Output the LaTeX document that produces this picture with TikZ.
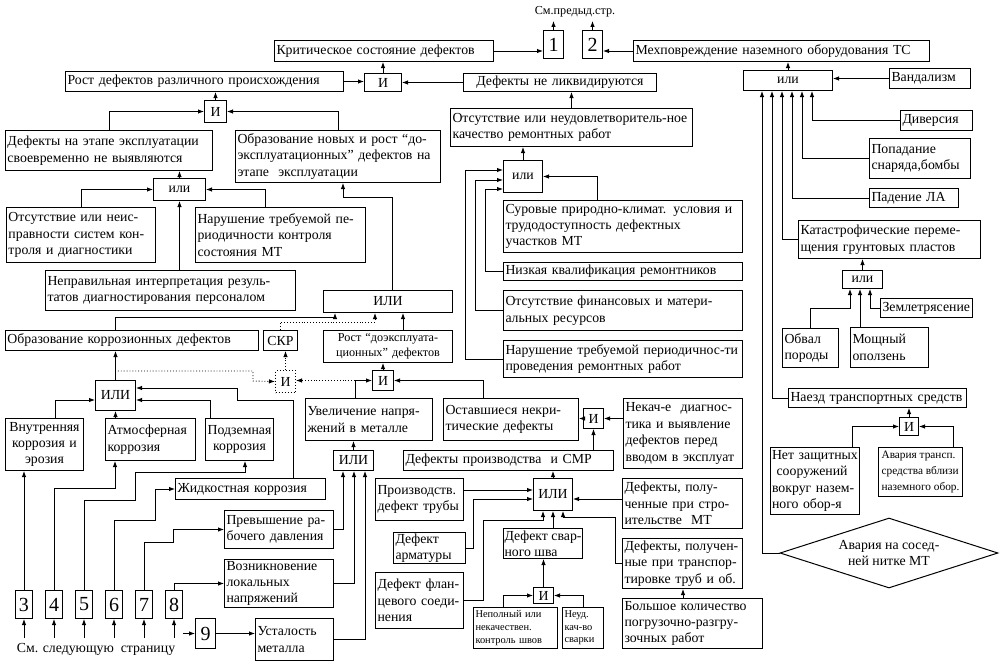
\documentclass[tikz,border=0pt]{standalone}
\usepackage{fontspec}
\setmainfont{Liberation Serif}
\usetikzlibrary{arrows.meta,shapes.geometric}

\newcommand{\fmain}{\fontsize{13.8}{16.4}\selectfont}
\newcommand{\fsmall}{\fontsize{12.2}{14.6}\selectfont}
\newcommand{\fnarrow}{\fontsize{11.3}{16}\selectfont}
\newcommand{\ftiny}{\fontsize{10.4}{12.6}\selectfont}
\newcommand{\fdigit}{\fontsize{20}{22}\selectfont}

\tikzset{
  box/.style={draw, line width=1pt, anchor=north west, inner xsep=2pt, inner ysep=1pt, align=left, font=\fmain},
  gate/.style={draw, line width=1pt, anchor=north west, inner sep=0pt, align=center, font=\fmain},
  num/.style={gate, font=\fdigit},
  link/.style={line width=0.9pt, ->},
  dlink/.style={line width=0.9pt, dotted, ->},
}

\begin{document}
\begin{tikzpicture}[x=1pt, y=-1pt, >={Latex[length=6pt,width=4.5pt]}]
\useasboundingbox (0,0) rectangle (1005,665);

% top row
\node[font=\fsmall] (seeprev) at (575,12) {См.предыд.стр.};
\node[num, minimum width=20pt, minimum height=28pt] (n1) at (543,30) {1};
\node[num, minimum width=20pt, minimum height=28pt] (n2) at (582,30) {2};
\node[box, text width=215pt, minimum height=21pt] (crit) at (274,40) {Критическое состояние дефектов};
\node[box, text width=292pt, minimum height=21pt] (mech) at (633,40) {Мехповреждение наземного оборудования ТС};
\node[box, text width=274pt, minimum height=20pt] (rost) at (65,71) {Рост дефектов различного происхождения};
\node[gate, minimum width=37pt, minimum height=18pt] (andT) at (364,73) {И};
\node[box, text width=189pt, minimum height=18pt, align=center] (neliq) at (463,73) {Дефекты не ликвидируются};
\node[gate, minimum width=89pt, minimum height=20pt] (orR) at (743,70) {или};
\node[box, text width=77pt, minimum height=20pt] (vand) at (889,68) {Вандализм};

% left branch
\node[gate, minimum width=22pt, minimum height=22pt] (andL) at (204,100) {И};
\node[box, text width=203pt, minimum height=40pt] (defexp) at (5,130) {Дефекты на этапе эксплуатации\\своевременно не выявляются};
\node[box, text width=201pt, minimum height=52pt] (obrnew) at (235,130) {Образование новых и рост “до-\\эксплуатационных” дефектов на\\этапе\ \ эксплуатации};
\node[gate, minimum width=52pt, minimum height=22pt] (orL) at (153,178) {или};
\node[box, text width=145pt, minimum height=55pt] (otsSys) at (6,207) {Отсутствие или неис-\\правности систем кон-\\троля и диагностики};
\node[box, text width=166pt, minimum height=55pt] (narKon) at (195,207) {Нарушение требуемой пе-\\риодичности контроля\\состояния МТ};
\node[box, text width=246pt, minimum height=40pt] (neprav) at (45,270) {Неправильная интерпретация резуль-\\татов диагностирования персоналом};

% repair branch
\node[box, text width=238pt, minimum height=38pt] (otsR) at (450,108) {Отсутствие или неудовлетворитель-ное\\качество ремонтных работ};
\node[gate, minimum width=39pt, minimum height=32pt] (orRep) at (503,160) {или};
\node[box, text width=235pt, minimum height=52pt] (surov) at (503,200) {Суровые природно-климат. условия и\\трудодоступность дефектных\\участков МТ};
\node[box, text width=235pt, minimum height=18pt] (nizk) at (503,262) {Низкая квалификация ремонтников};
\node[box, text width=235pt, minimum height=40pt] (otsFin) at (503,290) {Отсутствие финансовых и матери-\\альных ресурсов};
\node[box, text width=235pt, minimum height=37pt] (narRem) at (503,340) {Нарушение требуемой периодичнос-ти\\проведения ремонтных работ};

% right branch
\node[box, text width=68pt, minimum height=20pt] (divers) at (900,110) {Диверсия};
\node[box, text width=97pt, minimum height=40pt] (popad) at (869,138) {Попадание\\снаряда,бомбы};
\node[box, text width=85pt, minimum height=19pt] (padenie) at (869,188) {Падение ЛА};
\node[box, text width=178pt, minimum height=38pt] (katastr) at (798,220) {Катастрофические переме-\\щения грунтовых пластов};
\node[gate, minimum width=40pt, minimum height=18pt] (orG) at (842,270) {или};
\node[box, text width=88pt, minimum height=19pt] (zeml) at (880,298) {Землетрясение};
\node[box, text width=52pt, minimum height=39pt] (obval) at (782,328) {Обвал\\породы};
\node[box, text width=74pt, minimum height=40pt] (moshch) at (850,327) {Мощный\\оползень};
\node[box, text width=174pt, minimum height=19pt] (naezd) at (788,388) {Наезд транспортных средств};
\node[gate, minimum width=19pt, minimum height=18pt] (andTr) at (899,417) {И};
\node[box, text width=86pt, minimum height=67pt, inner xsep=1.5pt] (netZ) at (770,447) {Нет защитных\\\ сооружений\\вокруг назем-\\ного обор-я};
\node[box, minimum width=84pt, minimum height=49pt, inner xsep=1.5pt, font=\fnarrow] (avTr) at (878,447) {Авария трансп.\\средства вблизи\\наземного обор.};
\node[draw, diamond, aspect=3, line width=1pt, inner sep=0pt, minimum width=218pt, minimum height=70pt, align=center, font=\fmain] (diam) at (889,553) {Авария на сосед-\\ней нитке МТ};

% middle
\node[gate, minimum width=129pt, minimum height=22pt] (orM) at (323,290) {ИЛИ};
\node[box, text width=249pt, minimum height=20pt] (obrKor) at (5,330) {Образование коррозионных дефектов};
\node[gate, minimum width=34pt, minimum height=20pt] (skr) at (263,330) {СКР};
\node[box, text width=125pt, minimum height=32pt, align=center, font=\fsmall] (rostDo) at (323,330) {Рост “доэксплуата-\\ционных” дефектов};
\node[gate, dotted, minimum width=20pt, minimum height=22pt] (andD) at (275,370) {И};
\node[gate, minimum width=21pt, minimum height=20pt] (andR) at (372,370) {И};
\node[box, text width=123pt, minimum height=42pt] (uvel) at (305,398) {Увеличение напря-\\жений в металле};
\node[box, text width=131pt, minimum height=42pt] (ostav) at (443,398) {Оставшиеся некри-\\тические дефекты};
\node[gate, minimum width=20pt, minimum height=20pt] (andO) at (583,408) {И};
\node[box, text width=115pt, minimum height=70pt] (nekach) at (623,398) {Некач-е\ \ диагнос-\\тика и выявление\\дефектов перед\\вводом в эксплуат};

% corrosion
\node[gate, minimum width=40pt, minimum height=30pt] (orC) at (95,380) {ИЛИ};
\node[box, text width=74pt, minimum height=52pt, align=center] (vnutr) at (5,418) {Внутренняя\\коррозия и\\эрозия};
\node[box, text width=86pt, minimum height=42pt] (atm) at (105,418) {Атмосферная\\коррозия};
\node[box, text width=65pt, minimum height=42pt, inner xsep=1.5pt, align=center] (podz) at (205,418) {Подземная\\коррозия};
\node[box, text width=146pt, minimum height=21pt] (zhid) at (175,478) {Жидкостная коррозия};
\node[gate, minimum width=40pt, minimum height=20pt] (orS) at (333,450) {ИЛИ};
\node[box, text width=105pt, minimum height=38pt] (prev) at (224,510) {Превышение ра-\\бочего давления};
\node[box, text width=105pt, minimum height=48pt] (vozn) at (224,559) {Возникновение\\локальных\\напряжений};
\node[box, text width=74pt, minimum height=42pt] (ustal) at (255,618) {Усталость\\металла};

% production
\node[box, text width=206pt, minimum height=20pt] (defPr) at (403,450) {Дефекты производства\ \ и СМР};
\node[gate, minimum width=39pt, minimum height=32pt] (orP) at (533,478) {ИЛИ};
\node[box, text width=84pt, minimum height=42pt] (proizv) at (375,478) {Производств.\\дефект трубы};
\node[box, text width=116pt, minimum height=50pt] (defStr) at (622,478) {Дефекты, полу-\\ченные при стро-\\ительстве\ \ МТ};
\node[box, text width=68pt, minimum height=31pt] (armat) at (393,532) {Дефект\\арматуры};
\node[box, minimum width=77pt, minimum height=30pt, inner xsep=1pt] (svar) at (503,528) {Дефект свар-\\ного шва};
\node[box, text width=116pt, minimum height=50pt] (defTrans) at (622,538) {Дефекты, получен-\\ные при транспор-\\тировке труб и об.};
\node[box, text width=84pt, minimum height=56pt] (flan) at (375,572) {Дефект флан-\\цевого соеди-\\нения};
\node[gate, minimum width=20pt, minimum height=16pt] (andW) at (533,587) {И};
\node[box, text width=136pt, minimum height=50pt] (bolsh) at (622,598) {Большое количество\\погрузочно-разгру-\\зочных работ};
\node[box, text width=80pt, minimum height=41pt, font=\ftiny] (nepol) at (473,607) {Неполный или\\некачествен.\\контроль швов};
\node[box, text width=37pt, minimum height=41pt, font=\ftiny] (neud) at (562,607) {Неуд.\\кач-во\\сварки};

% numbered inputs
\node[num, minimum width=17pt, minimum height=28pt] (b3) at (15,590) {3};
\node[num, minimum width=17pt, minimum height=28pt] (b4) at (45,590) {4};
\node[num, minimum width=17pt, minimum height=28pt] (b5) at (75,590) {5};
\node[num, minimum width=17pt, minimum height=28pt] (b6) at (105,590) {6};
\node[num, minimum width=17pt, minimum height=28pt] (b7) at (135,590) {7};
\node[num, minimum width=17pt, minimum height=28pt] (b8) at (165,590) {8};
\node[num, minimum width=20pt, minimum height=30pt] (b9) at (195,618) {9};
\node[font=\fmain] (seenext) at (96,649) {См. следующую\ \ страницу};

% connectors, top
\draw[link] (n1.north) -- (n1.north |- seeprev.south);
\draw[link] (n2.north) -- (n2.north |- seeprev.south);
\draw[link] (crit.east) -- (crit.east -| n1.west);
\draw[link] (mech.west) -- (mech.west -| n2.east);
\draw[link] (andT.north) -- (andT.north |- crit.south);
\draw[link] (rost.east) -- (rost.east -| andT.west);
\draw[link] (neliq.west) -- (neliq.west -| andT.east);
\draw[link] (otsR.north) -- (otsR.north |- neliq.south);
\draw[link] (orRep.north) -- (orRep.north |- otsR.south);
\draw[link] (andL.north) -- (andL.north |- rost.south);
\draw[link] (defexp.north) |- (andL.west);
\draw[link] (obrnew.north) |- (andL.east);
\draw[link] (orL.north) -- (orL.north |- defexp.south);
\draw[link] (otsSys.north) |- (orL.west);
\draw[link] (narKon.north -| 265,0) |- (orL.east);
\draw[link] (orL.south |- neprav.north) -- (orL.south);
\draw[link] (orM.north -| 392,0) -- ++(0,-93) -| (obrnew.south -| 343,0);

% repair
\draw[link] (narRem.west) -| (465,170) -- (orRep.west |- 0,170);
\draw[link] (otsFin.west) -| (475,180) -- (orRep.west |- 0,180);
\draw[link] (nizk.west) -| (485,189) -- (orRep.west |- 0,189);
\draw[link] (surov.north -| 597,0) |- (orRep.east);

% middle
\draw[link] (obrKor.north -| 115,0) |- (335,317) -- (orM.south -| 335,0);
\draw[dlink] (skr.north) |- (375,322) -- (orM.south -| 375,0);
\draw[link] (rostDo.north -| 403,0) -- (orM.south -| 403,0);
\draw[dlink] (andD.north) -- (andD.north |- skr.south);
\draw[dlink] (115,371) -| (253,381) -- (andD.west);
\draw[link] (uvel.north -| 355,0) |- (andR.west);
\draw[dlink] (andR.west -| 355,0) -- (andD.east |- andR.west);
\draw[link] (ostav.north -| 483,0) |- (andR.east);
\draw[link] (andR.north) -- (andR.north |- rostDo.south);
\draw[link] (andO.west) -- (andO.west -| ostav.east);
\draw[link] (nekach.west |- andO.east) -- (andO.east);
\draw[link] (andO.south |- defPr.north) -- (andO.south);

% corrosion
\draw[link] (orC.north) -- (orC.north |- obrKor.south);
\draw[link] (vnutr.north -| 55,0) |- (orC.west |- 0,400);
\draw[link] (orC.south |- atm.north) -- (orC.south);
\draw[link] (podz.north -| 210,0) |- (orC.east |- 0,400);
\draw[link] (zhid.north -| 293,0) |- (237,400) |- (orC.east |- 0,388);
\draw[link] (orS.north) -- (orS.north |- uvel.south);
\draw[link] (prev.east) -| (orS.south -| 343,0);
\draw[link] (vozn.east) -| (orS.south -| 354,0);
\draw[link] (ustal.east) -| (orS.south -| 365,0);

% numbered inputs
\foreach \b in {b3,b4,b5,b6,b7,b8}
  \draw[link] (\b.south) ++(0,19) -- (\b.south);
\draw[link] (b3.north) -- (b3.north |- vnutr.south);
\draw[link] (b4.north) |- (115,488) -- (atm.south -| 115,0);
\draw[link] (b5.north) |- (135,500) |- (245,472) -- (podz.south -| 245,0);
\draw[link] (b6.north) |- (155,520) |- (zhid.west);
\draw[link] (b7.north) |- (173,542) |- (prev.west);
\draw[link] (b8.north) |- (vozn.west);
\draw[link] (b9.west) ++(-12,0) -- (b9.west);
\draw[link] (b9.east) -- (b9.east -| ustal.west);

% production
\draw[link] (orP.north) -- (orP.north |- defPr.south);
\draw[link] (proizv.east |- 0,490) -- (orP.west |- 0,490);
\draw[link] (armat.east) -| (473,499) -- (orP.west |- 0,499);
\draw[link] (flan.east) -| (483,520) -| (orP.south -| 543,0);
\draw[link] (svar.north -| 553,0) -- (orP.south -| 553,0);
\draw[link] (defTrans.west) -| (615,517) -| (orP.south -| 563,0);
\draw[link] (defStr.west |- 0,499) -- (orP.east |- 0,499);
\draw[link] (bolsh.north -| 683,0) -- (defTrans.south -| 683,0);
\draw[link] (andW.north) -- (andW.north |- svar.south);
\draw[link] (nepol.north -| 503,0) |- (andW.west);
\draw[link] (neud.north -| 583,0) |- (andW.east);

% right
\draw[link] (orR.north) -- (orR.north |- mech.south);
\draw[link] (vand.west) -- (vand.west -| orR.east);
\draw[link] (divers.west) -| (orR.south -| 812,0);
\draw[link] (popad.west) -| (orR.south -| 802,0);
\draw[link] (padenie.west) -| (orR.south -| 792,0);
\draw[link] (katastr.west) -| (orR.south -| 782,0);
\draw[link] (naezd.west) -| (orR.south -| 772,0);
\draw[link] (diam.west) -| (orR.south -| 762,0);
\draw[link] (orG.north) -- (orG.north |- katastr.south);
\draw[link] (obval.north) |- (850,308) -- (orG.south -| 850,0);
\draw[link] (moshch.north -| 860,0) -- (orG.south -| 860,0);
\draw[link] (zeml.west) -| (orG.south -| 870,0);
\draw[link] (andTr.north) -- (andTr.north |- naezd.south);
\draw[link] (netZ.north -| 852,0) |- (andTr.west);
\draw[link] (avTr.north -| 953,0) |- (andTr.east);
\end{tikzpicture}
\end{document}
